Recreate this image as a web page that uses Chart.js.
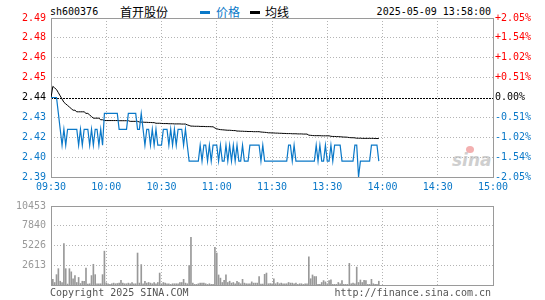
<!DOCTYPE html>
<html>
<head>
<meta charset="utf-8">
<script src="https://cdn.jsdelivr.net/npm/chart.js@4/dist/chart.umd.min.js"></script>
<style>
  body { margin: 0; width: 545px; height: 300px; background: #fff; position: relative; overflow: hidden;
         font: 10px "DejaVu Sans Mono", monospace; color: #000; }
  .t { position: absolute; white-space: nowrap; line-height: 12px; }
  .cjk { font: 12px "Noto Sans CJK SC", sans-serif; line-height: 14px; }
  #pc { position: absolute; left: 0; top: 0; }
  #vc { position: absolute; left: 0; top: 195px; }
</style>
</head>
<body>
<div class="t" style="left:50px;top:6px">sh600376</div>
<div class="t cjk" style="left:120px;top:5px">首开股份</div>
<div style="position:absolute;left:200px;top:11px;width:10px;height:3px;background:#0a78c8"></div>
<div class="t cjk" style="left:216px;top:5px;color:#0a78c8">价格</div>
<div style="position:absolute;left:250px;top:11px;width:10px;height:3px;background:#000"></div>
<div class="t cjk" style="left:265px;top:5px">均线</div>
<div class="t" style="right:54px;top:6px">2025-05-09 13:58:00</div>
<div class="t" style="left:452px;top:150px;font:italic bold 17px 'DejaVu Sans',sans-serif;color:#cfcfcf;line-height:20px">sina</div>
<div style="position:absolute;left:466px;top:146px;width:8px;height:7px;border-radius:50%;background:#f3b0b0"></div>
<canvas id="pc" width="545" height="195"></canvas>
<canvas id="vc" width="545" height="105"></canvas>
<div class="t" style="left:50px;top:287px;color:#555">Copyright 2025 SINA.COM</div>
<div class="t" style="right:54px;top:287px;color:#555">http://finance.sina.com.cn</div>
<script>
'use strict';

const prevClose = 2.44;
const priceMin = 2.39;
const priceMax = 2.49;

// minute index 0 = 09:30, 120 = 11:30/13:00, 240 = 15:00
const xTickPos = [0, 30, 60, 90, 120, 150, 180, 210, 240];
const xTickLabels = ['09:30', '10:00', '10:30', '11:00', '11:30', '13:30', '14:00', '14:30', '15:00'];

// price ticks, bottom to top
const yTickValues = [2.39, 2.4025, 2.415, 2.4275, 2.44, 2.4525, 2.465, 2.4775, 2.49];
const yTickLabels = ['2.39', '2.40', '2.42', '2.43', '2.44', '2.45', '2.46', '2.48', '2.49'];
const pctLabels = ['-2.05%', '-1.54%', '-1.02%', '-0.51%', '0.00%', '+0.51%', '+1.02%', '+1.54%', '+2.05%'];

const volMax = 10453;
const volTickValues = [2613, 5226, 7840, 10453];
const volTickLabels = ['2613', '5226', '7840', '10453'];

const price = [
  2.44,2.44,2.44,2.44,2.43,2.42,2.41,2.42,2.41,2.42,
  2.42,2.42,2.42,2.42,2.42,2.41,2.42,2.41,2.42,2.42,
  2.42,2.41,2.42,2.41,2.42,2.42,2.41,2.42,2.41,2.43,
  2.43,2.43,2.43,2.43,2.43,2.43,2.43,2.42,2.42,2.42,
  2.42,2.42,2.43,2.43,2.43,2.43,2.43,2.42,2.42,2.43,
  2.42,2.41,2.42,2.42,2.41,2.42,2.41,2.42,2.41,2.41,
  2.41,2.42,2.42,2.42,2.41,2.42,2.41,2.42,2.41,2.42,
  2.42,2.42,2.41,2.42,2.41,2.40,2.40,2.40,2.40,2.40,
  2.40,2.41,2.40,2.41,2.41,2.40,2.41,2.40,2.41,2.41,
  2.41,2.40,2.41,2.40,2.40,2.41,2.40,2.41,2.40,2.41,
  2.40,2.41,2.40,2.40,2.41,2.40,2.40,2.40,2.41,2.41,
  2.41,2.41,2.41,2.41,2.40,2.41,2.40,2.40,2.40,2.40,
  2.40,2.40,2.40,2.40,2.40,2.40,2.40,2.40,2.40,2.41,
  2.41,2.40,2.41,2.40,2.40,2.40,2.40,2.40,2.40,2.40,
  2.40,2.40,2.40,2.40,2.41,2.40,2.41,2.40,2.40,2.41,
  2.40,2.40,2.41,2.40,2.41,2.41,2.41,2.41,2.40,2.40,
  2.40,2.40,2.40,2.40,2.40,2.41,2.41,2.39,2.40,2.40,
  2.40,2.40,2.40,2.40,2.41,2.41,2.41,2.41,2.40
];

const avg = [
  2.440,2.447,2.446,2.445,2.443,2.441,2.439,2.437,2.436,2.435,
  2.434,2.433,2.432,2.432,2.431,2.431,2.431,2.431,2.431,2.430,
  2.430,2.429,2.428,2.427,2.427,2.427,2.427,2.426,2.426,2.4255,
  2.4255,2.4255,2.4255,2.4255,2.4255,2.4255,2.4255,2.4254,2.4254,2.4254,
  2.4254,2.4254,2.4254,2.4250,2.4250,2.4250,2.4250,2.4250,2.4246,2.4245,
  2.4245,2.4244,2.4244,2.4243,2.4243,2.4242,2.4242,2.4238,2.4238,2.4238,
  2.4237,2.4236,2.4236,2.4236,2.4235,2.4235,2.4235,2.4234,2.4234,2.4234,
  2.4234,2.4233,2.4233,2.4233,2.4228,2.4224,2.4220,2.4220,2.4219,2.4219,
  2.4219,2.4218,2.4218,2.4218,2.4217,2.4217,2.4217,2.4216,2.4216,2.4208,
  2.4203,2.4200,2.4198,2.4197,2.4196,2.4195,2.4194,2.4194,2.4193,2.4192,
  2.4192,2.4189,2.4189,2.4188,2.4188,2.4187,2.4187,2.4186,2.4186,2.4186,
  2.4185,2.4185,2.4185,2.4185,2.4183,2.4182,2.4181,2.4180,2.4178,2.4178,
  2.4177,2.4177,2.4176,2.4176,2.4175,2.4175,2.4174,2.4174,2.4173,2.4173,
  2.4173,2.4172,2.4172,2.4172,2.4171,2.4171,2.4171,2.4170,2.4170,2.4170,
  2.4163,2.4162,2.4161,2.4160,2.4160,2.4160,2.4160,2.4159,2.4159,2.4159,
  2.4159,2.4159,2.4156,2.4155,2.4155,2.4154,2.4154,2.4153,2.4152,2.4151,
  2.4151,2.4150,2.4148,2.4147,2.4147,2.4146,2.4144,2.4144,2.4144,2.4143,
  2.4143,2.4143,2.4143,2.4143,2.4143,2.4143,2.4142,2.4142,2.4142
];

const volume = [
  10453,750,330,1370,2160,500,330,5480,2160,125,
  2160,1740,830,1245,330,1000,200,500,500,2240,
  125,165,1245,2740,1370,165,165,165,1370,4480,
  290,165,80,165,250,165,200,250,620,250,
  165,165,250,165,330,165,165,4230,250,2700,
  165,500,250,330,250,165,330,165,330,1580,
  165,330,250,165,165,80,165,165,165,165,
  330,330,750,250,165,2570,6300,250,80,80,
  165,250,250,250,165,80,165,80,80,4980,
  4230,1330,910,330,620,1330,330,500,250,330,
  165,500,330,165,750,250,165,165,165,415,
  250,250,250,1120,125,125,1410,1580,165,200,
  165,830,165,330,165,250,165,165,165,330,
  250,250,165,250,80,165,165,80,165,165,
  3735,830,1330,1120,1120,80,80,330,580,415,
  165,580,700,80,80,80,330,165,580,80,
  80,80,2860,165,250,165,2370,330,660,330,
  620,580,80,80,750,165,80,80,500
];

const RED = '#ff0000';
const BLUE = '#0a78c8';
const GRID = '#b4b4b4';
const FRAME = '#9a9a9a';
const tickFont = { family: 'DejaVu Sans Mono', size: 10 };

function sideColor(ctx) {
  if (ctx.index > 4) return RED;
  if (ctx.index === 4) return '#000';
  return BLUE;
}

// grey box round the plot area, plus dashed line at the previous close
const frame = {
  id: 'frame',
  beforeDatasetsDraw(chart, args, opts) {
    const { ctx, chartArea: a } = chart;
    ctx.save();
    if (opts.base !== undefined) {
      const y = Math.round(chart.scales.y.getPixelForValue(opts.base)) + 0.5;
      ctx.strokeStyle = '#000';
      ctx.lineWidth = 1;
      ctx.setLineDash([2, 1]);
      ctx.beginPath();
      ctx.moveTo(a.left, y);
      ctx.lineTo(a.right, y);
      ctx.stroke();
      ctx.setLineDash([]);
    }
    ctx.strokeStyle = FRAME;
    ctx.lineWidth = 1;
    ctx.strokeRect(Math.round(a.left) + 0.5, Math.round(a.top) + 0.5,
      Math.round(a.right - a.left), Math.round(a.bottom - a.top));
    ctx.restore();
  }
};

const setXTicks = s => { s.ticks = xTickPos.map(v => ({ value: v })); };

new Chart('pc', {
  type: 'line',
  data: {
    datasets: [
      { label: '价格', data: price.map((v, i) => ({ x: i, y: v })), borderColor: BLUE,
        borderWidth: 1.2, pointRadius: 0, tension: 0 },
      { label: '均线', data: avg.map((v, i) => ({ x: i, y: v })), borderColor: '#000',
        borderWidth: 1, pointRadius: 0, tension: 0 }
    ]
  },
  options: {
    responsive: false, animation: false, devicePixelRatio: 1,
    layout: { padding: { top: 18, left: 0, right: 0, bottom: 0 } },
    plugins: { legend: { display: false }, tooltip: { enabled: false }, frame: { base: prevClose } },
    scales: {
      x: {
        type: 'linear', min: 0, max: 240,
        afterBuildTicks: setXTicks,
        afterFit: s => { s.height = 18; },
        ticks: { callback: (v, i) => xTickLabels[i], color: BLUE, font: tickFont, padding: 4,
                 maxRotation: 0, autoSkip: false },
        grid: { color: GRID, drawTicks: false },
        border: { display: false, dash: [1, 2] }
      },
      y: {
        min: priceMin, max: priceMax,
        afterBuildTicks: s => { s.ticks = yTickValues.map(v => ({ value: v })); },
        afterFit: s => { s.width = 51; },
        ticks: { callback: (v, i) => yTickLabels[i], color: sideColor, font: tickFont, padding: 5 },
        grid: { color: ctx => ctx.index === 4 ? 'rgba(0,0,0,0)' : GRID, drawTicks: false },
        border: { display: false, dash: [1, 2] }
      },
      yR: {
        position: 'right', min: priceMin, max: priceMax,
        afterBuildTicks: s => { s.ticks = yTickValues.map(v => ({ value: v })); },
        afterFit: s => { s.width = 52; },
        ticks: { callback: (v, i) => pctLabels[i], color: sideColor, font: tickFont, padding: 2 },
        grid: { drawOnChartArea: false, drawTicks: false },
        border: { display: false }
      }
    }
  },
  plugins: [frame]
});

new Chart('vc', {
  type: 'bar',
  data: {
    datasets: [{ data: volume.map((v, i) => ({ x: i, y: v })), backgroundColor: '#999',
                 barThickness: 1, borderWidth: 0 }]
  },
  options: {
    responsive: false, animation: false, devicePixelRatio: 1,
    layout: { padding: { top: 6, right: 52, left: 0, bottom: 0 } },
    plugins: { legend: { display: false }, tooltip: { enabled: false } },
    scales: {
      x: {
        type: 'linear', min: 0, max: 240, offset: false,
        afterBuildTicks: setXTicks,
        afterFit: s => { s.height = 15; },
        ticks: { display: false },
        grid: { color: GRID, drawTicks: false, offset: false },
        border: { display: false, dash: [1, 2] }
      },
      y: {
        min: 0, max: volMax,
        afterBuildTicks: s => { s.ticks = volTickValues.map(v => ({ value: v })); },
        afterFit: s => { s.width = 51; },
        ticks: { callback: (v, i) => volTickLabels[i], color: '#999', font: tickFont, padding: 5 },
        grid: { color: GRID, drawTicks: false },
        border: { display: false, dash: [1, 2] }
      }
    }
  },
  plugins: [frame]
});
</script>
</body>
</html>
